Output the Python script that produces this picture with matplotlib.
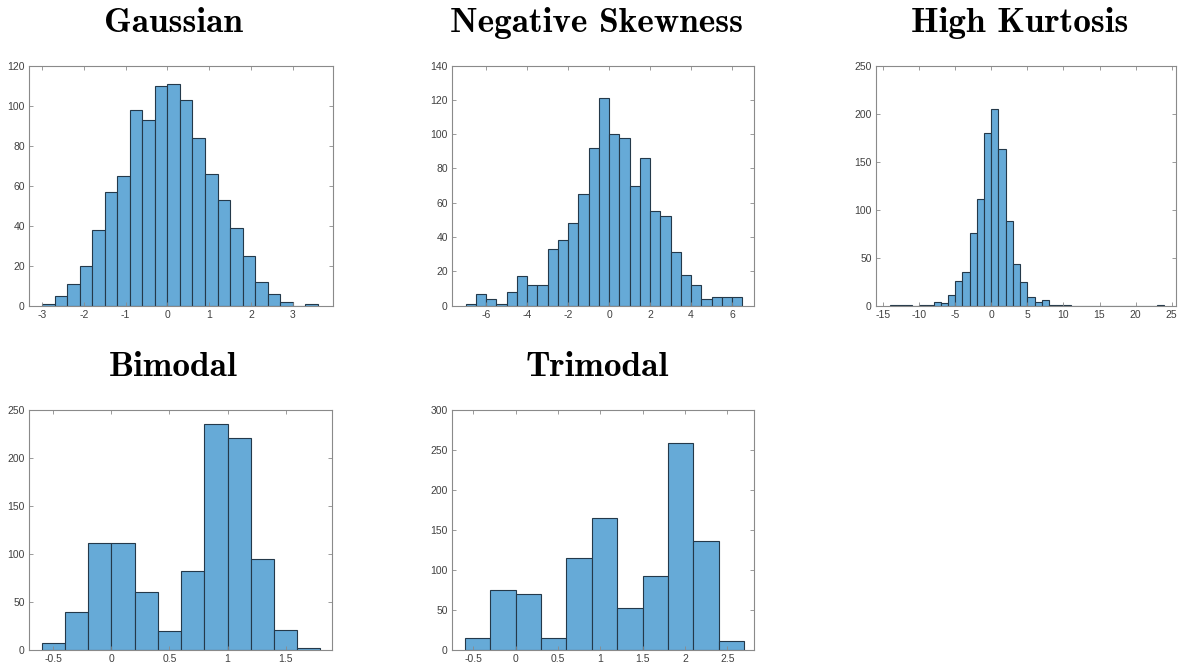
import numpy as np
import matplotlib.pyplot as plt
from matplotlib.ticker import MultipleLocator

plt.rcParams['font.family'] = ['Liberation Sans', 'DejaVu Sans']

# ---- data (histogram counts per bin) ----
gauss_edges = np.round(np.arange(-3.0, 3.6 + 1e-9, 0.3), 2)
gauss_counts = [1, 5, 11, 20, 38, 57, 65, 98, 93, 110, 111,
                103, 84, 66, 53, 39, 25, 12, 6, 2, 0, 1]

negskew_edges = np.round(np.arange(-7.0, 6.5 + 1e-9, 0.5), 2)
negskew_counts = [1, 7, 4, 1, 8, 17, 12, 12, 33, 38, 48, 65, 92, 121,
                  100, 98, 70, 86, 55, 52, 31, 18, 12, 4, 5, 5, 5]

kurt_edges = np.arange(-14, 25, 1)
kurt_counts = [1, 1, 1, 0, 1, 1, 4, 3, 11, 26, 35, 76, 111, 180,
               205, 163, 88, 43, 25, 9, 4, 6, 1, 1, 1,
               0, 0, 0, 0, 0, 0, 0, 0, 0, 0, 0, 0, 1]

bimodal_edges = np.round(np.arange(-0.6, 1.8 + 1e-9, 0.2), 2)
bimodal_counts = [7, 39, 111, 111, 60, 19, 82, 235, 220, 94, 20, 2]

trimodal_edges = np.round(np.arange(-0.6, 2.7 + 1e-9, 0.3), 2)
trimodal_counts = [14, 75, 69, 15, 114, 164, 52, 92, 258, 136, 11]

titles = ['Gaussian', 'Negative Skewness', 'High Kurtosis', 'Bimodal', 'Trimodal']

W, H = 1185, 670
fig = plt.figure(figsize=(W / 100, H / 100), dpi=100)

face = '#66aad7'
edge = '#24394a'
axcol = '#8a8a8a'
txtcol = '#404040'


def make_ax(l, r, t, b):
    return fig.add_axes([l / W, 1 - b / H, (r - l) / W, (b - t) / H])


def fmt(v, pos):
    # MATLAB style labels: plain hyphen, no trailing zeros
    return '0' if abs(v) < 1e-9 else f'{v:g}'


panels = [
    # edges, counts, box (l, r, t, b) px, xlim, ymax, xstep, ystep, title anchor px
    (gauss_edges, gauss_counts, (29, 333, 65.5, 305.5), (-3.31, 3.96), 120, 1, 20, (173, 32)),
    (negskew_edges, negskew_counts, (452, 754, 65.5, 305.5), (-7.67, 7.07), 140, 2, 20, (597, 32)),
    (kurt_edges, kurt_counts, (876, 1176, 65.5, 305.5), (-15.97, 25.6), 250, 5, 50, (1020, 32)),
    (bimodal_edges, bimodal_counts, (29, 332, 409.5, 649.5), (-0.71, 1.9), 250, 0.5, 50, (173, 376)),
    (trimodal_edges, trimodal_counts, (452, 754, 409.5, 649.5), (-0.75, 2.815), 300, 0.5, 50, (597, 376)),
]

for (edges, counts, box, xlim, ymax, xstep, ystep, tpos), title in zip(panels, titles):
    ax = make_ax(*box)
    ax.bar(edges[:-1], counts, width=np.diff(edges), align='edge',
           color=face, edgecolor=edge, linewidth=0.8)
    ax.set_xlim(*xlim)
    ax.set_ylim(0, ymax)
    ax.xaxis.set_major_locator(MultipleLocator(xstep))
    ax.yaxis.set_major_locator(MultipleLocator(ystep))
    ax.xaxis.set_major_formatter(plt.FuncFormatter(fmt))
    ax.yaxis.set_major_formatter(plt.FuncFormatter(fmt))
    ax.tick_params(direction='in', length=3, width=0.6, color=axcol,
                   labelsize=7.5, labelcolor=txtcol, top=True, right=True, pad=3)
    for s in ax.spines.values():
        s.set_color(axcol)
        s.set_linewidth(0.8)
    fig.text(tpos[0] / W, 1 - tpos[1] / H, title, ha='center', va='baseline',
             fontfamily='cmb10', fontsize=25.4, color='black')

fig.savefig('out.png', dpi=100)
